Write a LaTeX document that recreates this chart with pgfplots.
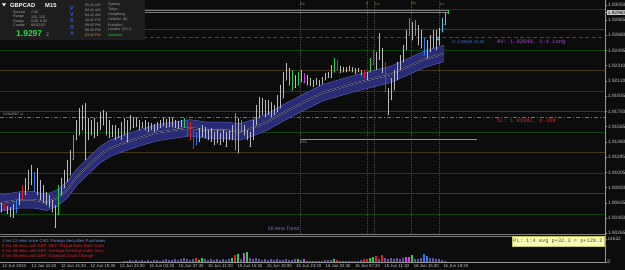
\documentclass[border=0pt]{standalone}
\usepackage{pgfplots}
\pgfplotsset{compat=1.18}
\usepackage{pgfplotstable}
\usepackage{fontspec}
\setmainfont{Liberation Sans}
\setmonofont{Liberation Mono}

\definecolor{bg}{RGB}{12,12,12}
\definecolor{panel}{RGB}{30,30,30}
\definecolor{axgray}{RGB}{150,150,150}
\definecolor{labgray}{RGB}{195,195,195}
\definecolor{lvbrown}{RGB}{70,56,26}
\definecolor{lvgreen}{RGB}{12,70,12}
\definecolor{lvblue}{RGB}{40,48,68}
\definecolor{candle}{RGB}{188,188,188}
\definecolor{cgreen}{RGB}{40,210,70}
\definecolor{cred}{RGB}{235,30,30}
\definecolor{cblue}{RGB}{40,130,240}
\definecolor{cmag}{RGB}{220,60,230}
\definecolor{ccyan}{RGB}{90,200,240}
\definecolor{emafill}{RGB}{40,44,118}
\definecolor{emaedge}{RGB}{85,92,185}
\definecolor{emacore}{RGB}{22,24,64}
\definecolor{volpurple}{RGB}{95,85,160}
\definecolor{entryred}{RGB}{170,30,30}
\definecolor{slred}{RGB}{225,75,35}
\definecolor{rolc}{RGB}{235,110,100}
\definecolor{sess}{RGB}{150,140,70}
\definecolor{dotgray}{RGB}{80,80,80}
\definecolor{orblue}{RGB}{70,120,210}
\definecolor{avmag}{RGB}{180,70,220}
\definecolor{newsblue}{RGB}{110,150,235}
\definecolor{newsred}{RGB}{235,35,35}
\definecolor{pvsra}{RGB}{60,90,225}
\definecolor{plbg}{RGB}{250,250,185}
\definecolor{plborder}{RGB}{200,200,90}
\definecolor{plfg}{RGB}{80,80,30}
\definecolor{ematext}{RGB}{120,120,210}
\definecolor{bidgray}{RGB}{125,125,125}
\definecolor{pricebox}{RGB}{205,205,205}
\definecolor{tgreen}{RGB}{40,220,60}
\definecolor{torange}{RGB}{240,150,40}
\definecolor{infogray}{RGB}{165,165,165}

\newcommand{\fs}[1]{\fontsize{#1}{#1}\selectfont}

\pgfplotsset{
  candles/.style={only marks, mark=*, mark size=0.1pt, mark options={draw=none, fill=none}, color=#1,
    error bars/y dir=plus, error bars/y explicit, error bars/error mark=none,
    error bars/error bar style={line width=1.0pt, color=#1}},
  vol/.style={ycomb, mark=none, line width=1.2pt, color=#1},
}

% all candles (x, low, high)
\pgfplotstableread{
x lo hi
1 1.9052 1.9063
4 1.9055 1.9062
7 1.9050 1.9060
10 1.9046 1.9058
13 1.9045 1.9062
16 1.9051 1.9067
19 1.9061 1.9075
22 1.9067 1.9085
25 1.9073 1.9094
28 1.9079 1.9103
31 1.9085 1.9110
34 1.9077 1.9101
37 1.9073 1.9106
40 1.9067 1.9091
43 1.9063 1.9085
46 1.9061 1.9077
49 1.9058 1.9073
52 1.9052 1.9067
55 1.9033 1.9061
58 1.9049 1.9085
61 1.9073 1.9094
64 1.9081 1.9103
67 1.9089 1.9116
70 1.9097 1.9128
73 1.9116 1.9146
76 1.9140 1.9165
79 1.9146 1.9179
82 1.9152 1.9183
85 1.9116 1.9185
88 1.9140 1.9167
91 1.9146 1.9165
94 1.9143 1.9167
97 1.9145 1.9162
100 1.9152 1.9174
103 1.9158 1.9177
106 1.9146 1.9174
109 1.9143 1.9165
112 1.9144 1.9158
115 1.9140 1.9158
118 1.9143 1.9155
121 1.9140 1.9162
124 1.9146 1.9167
127 1.9138 1.9165
130 1.9152 1.9171
133 1.9155 1.9168
136 1.9156 1.9167
139 1.9152 1.9165
142 1.9155 1.9162
145 1.9152 1.9165
148 1.9150 1.9162
151 1.9152 1.9161
154 1.9150 1.9160
157 1.9152 1.9162
160 1.9155 1.9165
163 1.9157 1.9167
166 1.9155 1.9166
169 1.9156 1.9168
172 1.9156 1.9167
175 1.9155 1.9165
178 1.9154 1.9163
181 1.9156 1.9165
184 1.9155 1.9167
187 1.9146 1.9165
190 1.9140 1.9162
193 1.9130 1.9152
196 1.9134 1.9150
199 1.9138 1.9155
202 1.9144 1.9158
205 1.9143 1.9156
208 1.9140 1.9152
211 1.9138 1.9155
214 1.9134 1.9150
217 1.9136 1.9152
220 1.9134 1.9149
223 1.9138 1.9152
226 1.9132 1.9150
229 1.9140 1.9152
232 1.9140 1.9158
235 1.9128 1.9173
238 1.9124 1.9167
241 1.9150 1.9165
244 1.9146 1.9158
247 1.9140 1.9152
250 1.9132 1.9150
253 1.9140 1.9165
256 1.9158 1.9183
259 1.9167 1.9193
262 1.9171 1.9191
265 1.9168 1.9189
268 1.9171 1.9189
271 1.9168 1.9187
274 1.9171 1.9183
277 1.9174 1.9195
280 1.9179 1.9207
283 1.9191 1.9223
286 1.9213 1.9234
289 1.9207 1.9228
292 1.9201 1.9226
295 1.9204 1.9219
298 1.9207 1.9223
301 1.9211 1.9226
304 1.9210 1.9222
307 1.9207 1.9219
310 1.9206 1.9216
313 1.9205 1.9213
316 1.9207 1.9216
319 1.9206 1.9213
322 1.9208 1.9217
325 1.9213 1.9222
328 1.9216 1.9223
331 1.9216 1.9232
334 1.9223 1.9240
337 1.9226 1.9238
340 1.9222 1.9230
343 1.9223 1.9229
346 1.9223 1.9229
349 1.9224 1.9230
352 1.9223 1.9229
355 1.9221 1.9228
358 1.9223 1.9228
361 1.9219 1.9226
364 1.9216 1.9226
367 1.9213 1.9223
370 1.9223 1.9240
373 1.9232 1.9250
376 1.9226 1.9248
379 1.9238 1.9271
382 1.9222 1.9252
385 1.9199 1.9235
388 1.9171 1.9204
391 1.9189 1.9216
394 1.9201 1.9226
397 1.9213 1.9235
400 1.9226 1.9244
403 1.9235 1.9256
406 1.9250 1.9274
409 1.9268 1.9289
412 1.9262 1.9284
415 1.9268 1.9287
418 1.9256 1.9281
421 1.9252 1.9274
424 1.9244 1.9265
427 1.9240 1.9262
430 1.9248 1.9268
433 1.9252 1.9274
436 1.9250 1.9274
439 1.9256 1.9277
442 1.9272 1.9289
445 1.9281 1.9296
448 1.9294 1.9299
}\candletab

% coloured (PVSRA) candles
\pgfplotstableread{
x lo hi
58 1.9049 1.9085
73 1.9116 1.9146
184 1.9155 1.9167
235 1.9128 1.9173
292 1.9201 1.9226
298 1.9207 1.9223
334 1.9223 1.9240
370 1.9223 1.9240
415 1.9268 1.9287
448 1.9294 1.9299
}\cgreentab
\pgfplotstableread{
x lo hi
4 1.9055 1.9062
22 1.9067 1.9085
187 1.9146 1.9165
190 1.9140 1.9162
193 1.9130 1.9152
337 1.9226 1.9238
364 1.9216 1.9226
373 1.9232 1.9250
385 1.9199 1.9235
}\credtab
\pgfplotstableread{
x lo hi
16 1.9051 1.9067
34 1.9077 1.9101
196 1.9134 1.9150
424 1.9244 1.9265
}\cbluetab
\pgfplotstableread{
x lo hi
241 1.9150 1.9165
304 1.9210 1.9222
409 1.9268 1.9289
}\cmagtab
\pgfplotstableread{
x lo hi
442 1.9272 1.9289
445 1.9281 1.9296
}\ccyantab

\pgfplotstableread{
x c u l
0 1.9063 1.9073 1.9053
20 1.9067 1.9077 1.9057
33 1.9067 1.9077 1.9057
47 1.9064 1.9074 1.9054
57 1.9069 1.9079 1.9059
67 1.9079 1.9089 1.9069
77 1.9095 1.9105 1.9085
87 1.9107 1.9117 1.9097
100 1.9122 1.9132 1.9112
110 1.9130 1.9140 1.9120
123 1.9136 1.9146 1.9126
140 1.9143 1.9153 1.9133
157 1.9149 1.9159 1.9139
173 1.9152 1.9162 1.9142
190 1.9155 1.9165 1.9145
207 1.9152 1.9162 1.9142
227 1.9152 1.9162 1.9142
240 1.9150 1.9160 1.9140
253 1.9155 1.9165 1.9145
267 1.9162 1.9172 1.9152
283 1.9173 1.9183 1.9163
300 1.9184 1.9194 1.9174
323 1.9198 1.9208 1.9188
357 1.9210 1.9220 1.9200
390 1.9220 1.9230 1.9210
407 1.9229 1.9239 1.9219
423 1.9238 1.9248 1.9228
444 1.9246 1.9256 1.9236
}\ematab

% tick volume (all bars)
\pgfplotstableread{
x v
124 600
127 600
130 1200
133 600
136 1200
139 600
142 1200
145 600
148 1200
151 600
154 1200
157 1200
160 600
163 1200
166 1800
169 1200
172 1200
175 1800
178 1200
181 1800
184 2400
187 1800
190 1200
193 1800
196 2400
199 1200
202 2400
205 1800
208 1200
211 1800
214 1200
217 1800
220 1200
223 1800
226 1200
229 1800
232 2400
235 4250
238 4900
241 1800
244 5500
247 6100
250 2400
253 1800
256 2400
259 1800
262 1200
265 1800
268 1200
271 1800
274 1200
277 1800
280 1200
283 1200
286 1800
289 1200
292 1200
295 1800
298 1800
301 1200
304 1800
307 600
310 600
313 600
316 600
319 600
322 600
325 1200
328 1200
331 1200
334 1800
337 1200
340 600
343 600
346 600
349 600
352 600
355 600
358 600
361 1200
364 1800
367 1800
370 2400
373 3050
376 3650
379 1800
382 4250
385 2400
388 1800
391 2400
394 1800
397 2400
400 1800
403 2400
406 3050
409 3050
412 4250
415 1800
418 1800
421 2400
424 4900
427 3650
430 2400
433 2400
436 1800
439 1800
442 1200
445 600
}\voltab
\pgfplotstableread{
x v
199 1200
202 2400
232 2400
238 4900
247 6100
298 1800
334 1800
370 2400
373 3050
412 4250
}\vgreentab
\pgfplotstableread{
x v
196 2400
235 4250
337 1200
364 1800
367 1800
376 3650
382 4250
}\vredtab
\pgfplotstableread{
x v
424 4900
427 3650
}\vbluetab
\pgfplotstableread{
x v
244 5500
304 1800
406 3050
409 3050
}\vmagtab

\begin{document}
\begin{tikzpicture}
\fill[bg] (0,0) rectangle (625pt,270pt);
\useasboundingbox (0,0) rectangle (625pt,270pt);

% ---------------- main price panel ----------------
\begin{axis}[
  at={(0pt,36pt)}, anchor=south west,
  width=605pt, height=234pt, scale only axis,
  xmin=0, xmax=605, ymin=1.902528, ymax=1.931111,
  scaled x ticks=false, scaled y ticks=false,
  axis x line*=bottom, x axis line style={draw=none}, xtick=\empty,
  axis y line*=right,
  y axis line style={draw=axgray, line width=0.6pt, -},
  ytick={1.9305,1.92865,1.9268,1.92495,1.9231,1.9212,1.91935,1.9175,1.91565,1.9138,1.91195,1.91005,1.9082,1.90635,1.9045,1.90265},
  yticklabels={1.93050,1.92865,1.92680,1.92495,1.92310,1.92120,1.91935,1.91750,1.91565,1.91380,1.91195,1.91005,1.90820,1.90635,1.90450,1.90265},
  extra y ticks={1.9296},
  extra y tick labels={1.92960},
  extra y tick style={yticklabel style={fill=pricebox, text=black, inner sep=0.6pt}},
  yticklabel style={font=\fs{4.8}, text=labgray, anchor=west, inner sep=0.8pt},
  /pgf/number format/assume math mode=true,
  tick style={draw=axgray, line width=0.4pt},
  major tick length=2pt, tick align=outside,
]
% level lines
\addplot[lvblue, line width=0.5pt] coordinates {(0,1.9300) (605,1.9300)};
\addplot[lvbrown, line width=0.5pt] coordinates {(0,1.9275) (605,1.9275)};
\addplot[lvgreen, line width=0.5pt] coordinates {(0,1.9250) (605,1.9250)};
\addplot[lvbrown, line width=0.5pt] coordinates {(0,1.9225) (605,1.9225)};
\addplot[lvblue, line width=0.5pt] coordinates {(0,1.9200) (605,1.9200)};
\addplot[lvbrown, line width=0.5pt] coordinates {(0,1.9175) (605,1.9175)};
\addplot[lvgreen, line width=0.5pt] coordinates {(0,1.9150) (605,1.9150)};
\addplot[lvbrown, line width=0.5pt] coordinates {(0,1.9125) (605,1.9125)};
\addplot[lvblue, line width=0.5pt] coordinates {(0,1.9100) (605,1.9100)};
\addplot[lvbrown, line width=0.5pt] coordinates {(0,1.9075) (605,1.9075)};
\addplot[lvgreen, line width=0.5pt] coordinates {(0,1.9050) (605,1.9050)};
% bid lines
\addplot[bidgray, line width=0.5pt] coordinates {(0,1.92989) (448,1.92989)};
\addplot[bidgray, line width=0.5pt] coordinates {(0,1.92960) (448,1.92960)};
% session dotted lines
\addplot[dotgray, line width=0.4pt, dash pattern=on 0.6pt off 1.4pt] coordinates {(300,1.90253) (300,1.93111)};
\addplot[dotgray, line width=0.4pt, dash pattern=on 0.6pt off 1.4pt] coordinates {(367,1.90253) (367,1.93111)};
\addplot[dotgray, line width=0.4pt, dash pattern=on 0.6pt off 1.4pt] coordinates {(374,1.90253) (374,1.93111)};
\addplot[dotgray, line width=0.4pt, dash pattern=on 0.6pt off 1.4pt] coordinates {(411,1.90253) (411,1.93111)};
\addplot[dotgray, line width=0.4pt, dash pattern=on 0.6pt off 1.4pt] coordinates {(439,1.90253) (439,1.93111)};
% entry and stop lines
\addplot[entryred, line width=0.7pt, dash pattern=on 4pt off 2.5pt] coordinates {(0,1.92649) (605,1.92649)};
\addplot[slred, line width=0.7pt, dash pattern=on 4pt off 2pt on 1pt off 2pt] coordinates {(0,1.91682) (605,1.91682)};
% ROL
\addplot[rolc, line width=0.6pt] coordinates {(300,1.91414) (477,1.91414)};
% EMA ribbon (band polygon: upper edge forward, lower edge back)
\addplot[fill=emafill, draw=none] coordinates {
(0,1.9073) (20,1.9077) (33,1.9077) (47,1.9074) (57,1.9079) (67,1.9089) (77,1.9105) (87,1.9117)
(100,1.9132) (110,1.9140) (123,1.9146) (140,1.9153) (157,1.9159) (173,1.9162) (190,1.9165)
(207,1.9162) (227,1.9162) (240,1.9160) (253,1.9165) (267,1.9172) (283,1.9183) (300,1.9194)
(323,1.9208) (357,1.9220) (390,1.9230) (407,1.9239) (423,1.9248) (444,1.9256)
(444,1.9236) (423,1.9228) (407,1.9219) (390,1.9210) (357,1.9200) (323,1.9188) (300,1.9174)
(283,1.9163) (267,1.9152) (253,1.9145) (240,1.9140) (227,1.9142) (207,1.9142) (190,1.9145)
(173,1.9142) (157,1.9139) (140,1.9133) (123,1.9126) (110,1.9120) (100,1.9112) (87,1.9097)
(77,1.9085) (67,1.9069) (57,1.9059) (47,1.9054) (33,1.9057) (20,1.9057) (0,1.9053)
};
\addplot[emaedge, line width=0.5pt] table[x=x, y=u] {\ematab};
\addplot[emaedge, line width=0.5pt] table[x=x, y=l] {\ematab};
\addplot[gray!75, line width=0.35pt, double=emacore, double distance=0.9pt] table[x=x, y=c] {\ematab};
% candles
\addplot[candles=candle] table[x=x, y=lo, y error expr=\thisrow{hi}-\thisrow{lo}] {\candletab};
\addplot[candles=cgreen] table[x=x, y=lo, y error expr=\thisrow{hi}-\thisrow{lo}] {\cgreentab};
\addplot[candles=cred] table[x=x, y=lo, y error expr=\thisrow{hi}-\thisrow{lo}] {\credtab};
\addplot[candles=cblue] table[x=x, y=lo, y error expr=\thisrow{hi}-\thisrow{lo}] {\cbluetab};
\addplot[candles=cmag] table[x=x, y=lo, y error expr=\thisrow{hi}-\thisrow{lo}] {\cmagtab};
\addplot[candles=ccyan] table[x=x, y=lo, y error expr=\thisrow{hi}-\thisrow{lo}] {\ccyantab};
% entry marker
\addplot[only marks, mark=o, mark size=1.5pt, ccyan, line width=0.7pt] coordinates {(438,1.92640)};
\end{axis}

% ---------------- volume panel ----------------
\begin{axis}[
  at={(0pt,8pt)}, anchor=south west,
  width=605pt, height=28pt, scale only axis,
  xmin=0, xmax=605, ymin=0, ymax=17800,
  scaled x ticks=false, scaled y ticks=false,
  axis x line*=bottom, axis y line*=right,
  axis line style={draw=axgray, line width=0.6pt, -},
  ytick={0,14622}, yticklabels={0,14622},
  yticklabel style={font=\fs{4.8}, text=labgray, anchor=west, inner sep=0.8pt},
  xtick={2,31.4,60.8,90.2,119.6,149,178.4,207.8,237.2,266.6,296,325.4,354.8,384.2,413.6,443},
  xticklabels={12 Jun 2015,12 Jun 11:30,12 Jun 15:30,12 Jun 19:30,12 Jun 23:30,15 Jun 03:30,15 Jun 07:30,15 Jun 11:30,15 Jun 15:30,15 Jun 19:30,15 Jun 23:30,16 Jun 03:30,16 Jun 07:30,16 Jun 11:30,16 Jun 15:30,16 Jun 19:30},
  xticklabel style={font=\fs{4.3}, text=labgray, anchor=north west, inner sep=0.6pt, xshift=-0.5pt},
  /pgf/number format/assume math mode=true,
  tick style={draw=axgray, line width=0.4pt},
  major tick length=1.5pt, tick align=outside,
]
\addplot[vol=volpurple] table[x=x, y=v] {\voltab};
\addplot[vol=cgreen] table[x=x, y=v] {\vgreentab};
\addplot[vol=cred] table[x=x, y=v] {\vredtab};
\addplot[vol=cblue] table[x=x, y=v] {\vbluetab};
\addplot[vol=cmag] table[x=x, y=v] {\vmagtab};
\end{axis}

% panel separator
\draw[bidgray, line width=0.5pt] (0,35.5pt) -- (605pt,35.5pt);
\draw[bidgray, line width=0.5pt] (0,33.5pt) -- (605pt,33.5pt);

% ---------------- info panel ----------------
\fill[panel] (0,270pt) rectangle (145pt,230pt);
\fill[white] (2pt,266.5pt) -- (6pt,266.5pt) -- (4pt,263.5pt) -- cycle;
\node[anchor=west, inner sep=0pt, text=white, font=\fs{5.8}\bfseries] at (10pt,264.5pt) {GBPCAD};
\node[anchor=west, inner sep=0pt, text=white, font=\fs{5.8}\bfseries] at (45pt,264.5pt) {M15};
\begin{scope}[every node/.style={anchor=west, inner sep=0pt, text=infogray, font=\fs{3.6}}]
\node at (13pt,257.3pt) {Spread};
\node at (13pt,253pt) {Range};
\node at (13pt,248.7pt) {Swaps};
\node at (13pt,244.3pt) {Candle};
\node at (31pt,257.3pt) {2.00};
\node at (31pt,253pt) {155, 125};
\node at (31pt,248.7pt) {0.00, 0.00};
\node at (31pt,244.3pt) {00:02:03};
\end{scope}
\node[anchor=west, inner sep=0pt, text=tgreen, font=\fs{8.5}\bfseries] at (16pt,236pt) {1.9297};
\node[anchor=west, inner sep=0pt, text=infogray, font=\fs{5}] at (46pt,235.5pt) {2};
\begin{scope}[every node/.style={inner sep=0pt, text=pvsra, font=\fs{5.5}\bfseries}]
\node at (72pt,261.7pt) {P};
\node at (72pt,255.3pt) {V};
\node at (72pt,249.3pt) {S};
\node at (72pt,242.7pt) {R};
\node at (72pt,236.3pt) {A};
\end{scope}
\begin{scope}[every node/.style={anchor=west, inner sep=0pt, text=infogray, font=\fs{3.6}}]
\node at (85pt,265pt) {05:42 AM};
\node at (85pt,260pt) {04:42 AM};
\node at (85pt,255pt) {04:42 AM};
\node at (85pt,250pt) {10:42 PM};
\node at (85pt,245pt) {09:42 PM};
\node at (85pt,240pt) {08:42 PM};
\node[text=torange] at (85pt,235pt) {03:42 PM};
\node at (108pt,265pt) {Sydney};
\node at (108pt,260pt) {Tokyo};
\node at (108pt,255pt) {HongKong};
\node at (108pt,250pt) {Helsinki\ \ (B)};
\node at (108pt,245pt) {Frankfurt};
\node at (108pt,240pt) {London\ \ (G+1)};
\node[text=tgreen] at (108pt,235pt) {NewYork};
\end{scope}

% ---------------- annotations ----------------
\node[anchor=west, inner sep=0pt, text=infogray, font=\fs{3.6}] at (3pt,156pt) {\#1942567 sl};
\node[anchor=west, inner sep=0pt, text=orblue, font=\fs{4}] at (452pt,228pt) {O: 1.92649, 00:00};
\node[anchor=west, inner sep=0pt, text=avmag, font=\ttfamily\fs{5.4}] at (497pt,228pt) {AV: 1.92649, 1:4 Long};
\node[anchor=west, inner sep=0pt, text=newsred, font=\ttfamily\fs{5.4}] at (497pt,149pt) {SL: 1.91682, p-388};
\node[anchor=west, inner sep=0pt, text=infogray, font=\fs{3.6}] at (300pt,128pt) {ROL};
\node[anchor=west, inner sep=0pt, text=ematext, font=\fs{5}] at (268pt,41pt) {50 ema Trend};
\begin{scope}[every node/.style={anchor=west, inner sep=0pt, text=sess, font=\fs{4}}]
\node at (300pt,266pt) {As};
\node at (366pt,266pt) {F};
\node at (375pt,266pt) {Lo};
\node at (411pt,266pt) {Ny};
\node at (440pt,266pt) {Lc};
\end{scope}
\begin{scope}[every node/.style={anchor=west, inner sep=0pt, font=\fs{4.2}}]
\node[text=newsblue] at (2pt,29pt) {1 hrs 12 mins since CAD: Foreign Securities Purchases};
\node[text=newsred] at (2pt,24pt) {0 hrs 49 mins until GBP: MPC Official Bank Rate Votes};
\node[text=newsred] at (2pt,19pt) {0 hrs 49 mins until GBP: Average Earnings Index 3m/y};
\node[text=newsred] at (2pt,14pt) {0 hrs 49 mins until GBP: Claimant Count Change};
\end{scope}
\node[anchor=east, fill=plbg, draw=plborder, line width=0.5pt, inner sep=1.2pt, minimum height=10pt, text=plfg, font=\ttfamily\fs{5.3}] at (604pt,29pt) {PL: 1:4 avg p+32.3 = p+129.2};
\end{tikzpicture}
\end{document}
